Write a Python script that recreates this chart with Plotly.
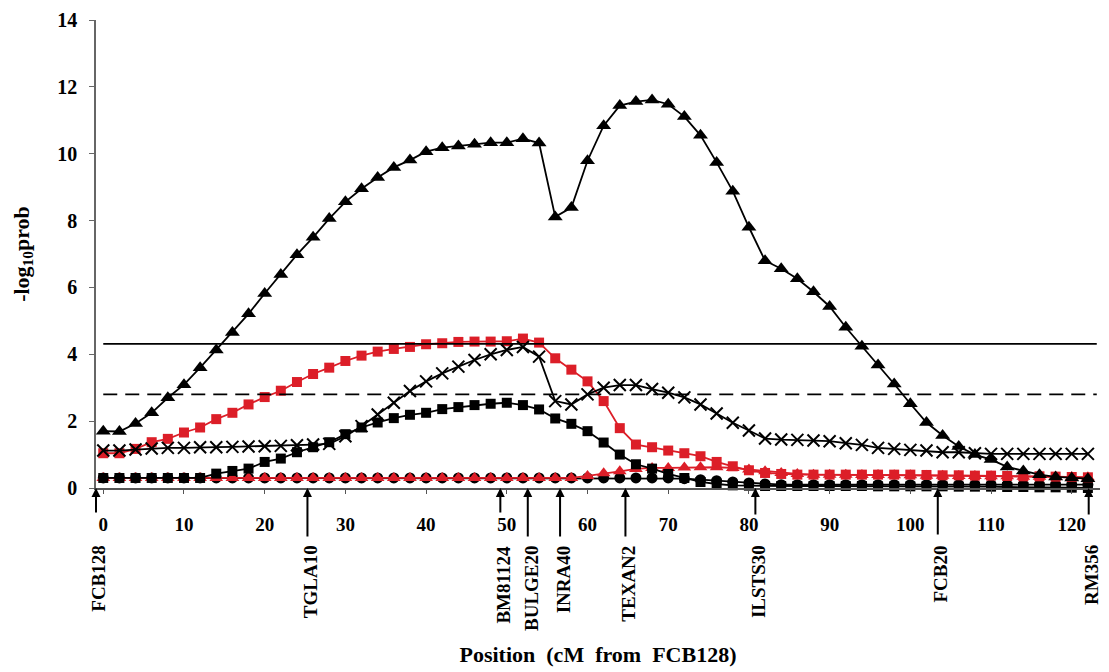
import plotly.graph_objects as go

# Scan positions along the chromosome (cM from FCB128)
positions = [0, 2, 4, 6, 8, 10, 12, 14, 16, 18, 20, 22, 24, 26, 28, 30, 32, 34, 36, 38,
             40, 42, 44, 46, 48, 50, 52, 54, 56, 58, 60, 62, 64, 66, 68, 70, 72, 74, 76, 78,
             80, 82, 84, 86, 88, 90, 92, 94, 96, 98, 100, 102, 104, 106, 108, 110, 112, 114,
             116, 118, 120, 122]

# -log10 probability profiles
tri_black = [1.70, 1.69, 1.93, 2.25, 2.70, 3.09, 3.60, 4.13, 4.65, 5.21,
             5.82, 6.39, 6.98, 7.50, 8.06, 8.56, 8.95, 9.29, 9.59, 9.81,
             10.06, 10.18, 10.23, 10.28, 10.33, 10.33, 10.45, 10.32, 8.11, 8.39,
             9.79, 10.84, 11.44, 11.56, 11.61, 11.48, 11.11, 10.55, 9.74, 8.88,
             7.80, 6.80, 6.56, 6.26, 5.87, 5.43, 4.81, 4.24, 3.68, 3.11,
             2.52, 1.96, 1.57, 1.24, 1.00, 0.85, 0.63, 0.51, 0.40, 0.33,
             0.30, 0.28]

sq_red = [1.04, 1.04, 1.17, 1.37, 1.47, 1.66, 1.81, 2.06, 2.25, 2.50,
          2.72, 2.91, 3.17, 3.41, 3.60, 3.80, 3.96, 4.08, 4.16, 4.22,
          4.30, 4.33, 4.37, 4.38, 4.38, 4.39, 4.47, 4.35, 3.88, 3.54,
          3.19, 2.60, 1.79, 1.30, 1.22, 1.12, 1.04, 0.95, 0.78, 0.65,
          0.53, 0.45, 0.42, 0.40, 0.40, 0.40, 0.40, 0.40, 0.40, 0.40,
          0.40, 0.39, 0.38, 0.38, 0.37, 0.37, 0.36, 0.35, 0.35, 0.34,
          0.33, 0.32]

x_black = [1.12, 1.12, 1.15, 1.18, 1.20, 1.20, 1.22, 1.22, 1.23, 1.24,
           1.25, 1.26, 1.28, 1.30, 1.32, 1.55, 1.85, 2.20, 2.55, 2.90,
           3.19, 3.43, 3.63, 3.83, 4.00, 4.13, 4.22, 3.93, 2.60, 2.50,
           2.80, 3.00, 3.08, 3.08, 2.96, 2.85, 2.71, 2.50, 2.23, 1.95,
           1.72, 1.48, 1.45, 1.44, 1.42, 1.40, 1.34, 1.29, 1.20, 1.17,
           1.14, 1.12, 1.07, 1.07, 1.04, 1.02, 1.02, 1.02, 1.02, 1.02,
           1.02, 1.02]

sq_black = [0.30, 0.30, 0.30, 0.30, 0.30, 0.30, 0.30, 0.43, 0.51, 0.58,
            0.78, 0.88, 1.07, 1.22, 1.37, 1.61, 1.81, 1.96, 2.09, 2.19,
            2.25, 2.36, 2.42, 2.48, 2.52, 2.55, 2.48, 2.35, 2.08, 1.92,
            1.70, 1.36, 1.00, 0.71, 0.58, 0.42, 0.30, 0.18, 0.12, 0.08,
            0.07, 0.06, 0.06, 0.06, 0.06, 0.06, 0.06, 0.06, 0.05, 0.05,
            0.05, 0.05, 0.05, 0.04, 0.04, 0.04, 0.03, 0.03, 0.02, 0.02,
            0.01, 0.00]

circ_black = [0.30, 0.30, 0.30, 0.30, 0.30, 0.30, 0.30, 0.30, 0.30, 0.30,
              0.30, 0.30, 0.30, 0.30, 0.30, 0.30, 0.30, 0.30, 0.30, 0.30,
              0.30, 0.30, 0.30, 0.30, 0.30, 0.30, 0.30, 0.30, 0.30, 0.30,
              0.30, 0.30, 0.30, 0.30, 0.30, 0.30, 0.28, 0.25, 0.22, 0.18,
              0.15, 0.12, 0.10, 0.10, 0.10, 0.10, 0.10, 0.10, 0.10, 0.10,
              0.10, 0.10, 0.10, 0.10, 0.10, 0.10, 0.10, 0.10, 0.10, 0.10,
              0.10, 0.10]

tri_red = [0.30, 0.30, 0.30, 0.30, 0.30, 0.30, 0.30, 0.30, 0.30, 0.30,
           0.30, 0.30, 0.30, 0.30, 0.30, 0.30, 0.30, 0.30, 0.30, 0.30,
           0.30, 0.30, 0.30, 0.30, 0.30, 0.30, 0.30, 0.30, 0.30, 0.30,
           0.36, 0.44, 0.50, 0.57, 0.60, 0.60, 0.61, 0.62, 0.62, 0.60,
           0.55, 0.50, 0.45, 0.42, 0.40, 0.40, 0.40, 0.39, 0.39, 0.38,
           0.38, 0.37, 0.37, 0.36, 0.36, 0.35, 0.35, 0.34, 0.34, 0.33,
           0.33, 0.32]

# Significance thresholds
threshold_solid = 4.31
threshold_dashed = 2.80
threshold_span = [0, 123.1]

# Marker map along the linkage group
marker_names = ["FCB128", "TGLA10", "BM81124", "BULGE20", "INRA40",
                "TEXAN2", "ILSTS30", "FCB20", "RM356"]
marker_pos = [-0.9, 25.3, 49.2, 52.6, 56.6, 64.7, 80.8, 103.4, 122.1]
arrow_len = [26, 50, 26, 50, 50, 50, 28, 48, 28]

x_ticks = [0, 10, 20, 30, 40, 50, 60, 70, 80, 90, 100, 110, 120]
y_ticks = [0, 2, 4, 6, 8, 10, 12, 14]

BLACK = "#000000"
RED = "#dc1e28"
SERIF = "Liberation Serif"

fig = go.Figure()


def add_series(y, color, symbol, size, line_w=1.8, x_marker=False):
    if x_marker:
        marker = dict(symbol=symbol, size=size, color=color,
                      line=dict(width=2, color=color))
    else:
        marker = dict(symbol=symbol, size=size, color=color,
                      line=dict(width=0))
    fig.add_trace(go.Scatter(
        x=positions, y=y, mode="lines+markers",
        line=dict(color=color, width=line_w),
        marker=marker, cliponaxis=False, showlegend=False,
    ))


add_series(circ_black, BLACK, "circle", 11)
add_series(tri_red, RED, "triangle-up", 12)
add_series(sq_black, BLACK, "square", 10)
add_series(sq_red, RED, "square", 10)
add_series(x_black, BLACK, "x-thin", 12, x_marker=True)
add_series(tri_black, BLACK, "triangle-up", 13)

# Threshold lines
fig.add_trace(go.Scatter(x=threshold_span, y=[threshold_solid, threshold_solid],
                         mode="lines", line=dict(color=BLACK, width=1.8),
                         showlegend=False, hoverinfo="skip"))
fig.add_trace(go.Scatter(x=threshold_span, y=[threshold_dashed, threshold_dashed],
                         mode="lines", line=dict(color=BLACK, width=1.8, dash="14px,8px"),
                         showlegend=False, hoverinfo="skip"))

annotations = []
for name, pos, alen in zip(marker_names, marker_pos, arrow_len):
    annotations.append(dict(
        x=pos, y=0, xref="x", yref="y", text="", showarrow=True,
        ax=0, ay=alen, arrowhead=2, arrowsize=0.9, arrowwidth=2,
        arrowcolor=BLACK, standoff=0,
    ))
    annotations.append(dict(
        x=pos, y=-0.118, xref="x", yref="paper", text=name, showarrow=False,
        textangle=-90, xanchor="center", yanchor="top", xshift=3,
        font=dict(family=SERIF, size=19, color=BLACK, weight="bold"),
    ))

fig.update_layout(
    width=1109, height=672,
    margin=dict(l=96, r=9, t=13, b=183),
    plot_bgcolor="white", paper_bgcolor="white",
    annotations=annotations,
    xaxis=dict(
        range=[-0.9, 123.5], tickvals=x_ticks, showgrid=False, zeroline=False,
        showline=True, linecolor="#555555", linewidth=1.5,
        ticks="outside", ticklen=4, tickcolor="#555555",
        ticklabelstandoff=14,
        tickfont=dict(family=SERIF, size=19, color=BLACK, weight="bold"),
        title=dict(text="Position  (cM  from  FCB128)", standoff=113,
                   font=dict(family=SERIF, size=22, color=BLACK, weight="bold")),
    ),
    yaxis=dict(
        range=[0, 14], tickvals=y_ticks, showgrid=False, zeroline=False,
        showline=True, linecolor="#666666", linewidth=1.5,
        ticks="outside", ticklen=5, tickcolor="#666666",
        ticklabelstandoff=8,
        tickfont=dict(family=SERIF, size=20, color=BLACK, weight="bold"),
        title=dict(text="-log<sub>10</sub>prob", standoff=22,
                   font=dict(family=SERIF, size=22, color=BLACK, weight="bold")),
    ),
)

fig.write_html("out.html")
